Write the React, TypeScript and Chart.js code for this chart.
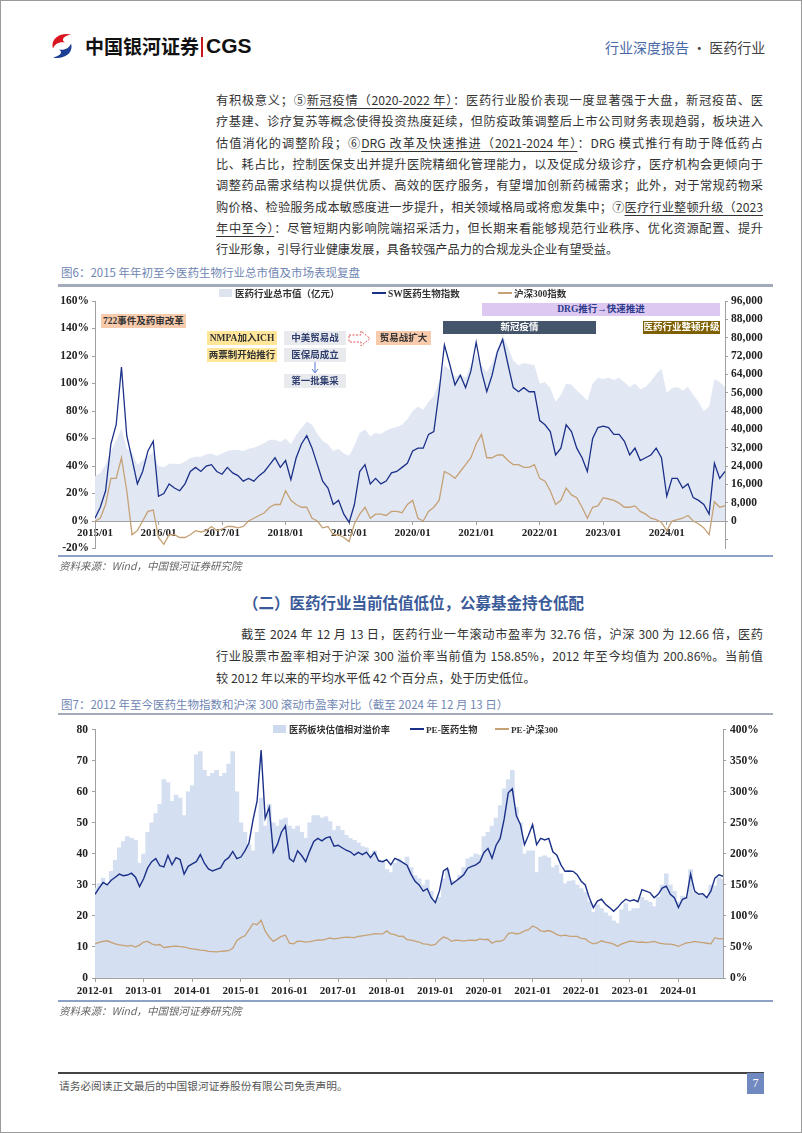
import React, { useEffect, useRef } from "react";
import { Chart, registerables } from "chart.js";

Chart.register(...registerables);

const SERIF = "'Liberation Serif','Times New Roman','Noto Sans CJK SC',serif";
const CJK = "'Noto Sans CJK SC','Noto Sans',sans-serif";
const BLUE = "#1b3088";
const TAN = "#c5a175";

// ---------------- 图6 data: monthly, 2015/01 – 2024/12 ----------------
const fig6YearLabels = ["2015/01", "2016/01", "2017/01", "2018/01", "2019/01", "2020/01", "2021/01", "2022/01", "2023/01", "2024/01"];
// 医药行业总市值（亿元）
const fig6MarketCap = [
  19500, 21000, 24500, 30500, 35000, 40500, 31500, 30000, 24500, 26500, 28500, 30000,
  24000, 23500, 25000, 25000, 24800, 26000, 27500, 28000, 28000, 29000, 29500, 28500,
  29500, 30500, 31000, 31000, 30500, 31500, 32000, 33000, 34000, 35500, 35500, 34500,
  36000, 33500, 37500, 40500, 43500, 42000, 38000, 35000, 33500, 30500, 31500, 29500,
  28500, 33000, 38500, 40000, 37000, 38500, 38000, 39500, 40500, 41000, 42000, 44500,
  48000, 50000, 48500, 52000, 54500, 61000, 68000, 66000, 63000, 64000, 62500, 68000,
  73000, 68000, 65000, 69000, 75000, 81000, 76000, 70000, 68000, 69000, 68500, 68000,
  60000, 60500, 58000, 52000, 55000, 60000, 59500, 57000, 55000, 52500, 60000, 62500,
  62000, 62500, 61500, 62500, 60500, 58500, 60000, 57500, 58500, 61000, 64000, 66500,
  56000, 58000, 58500, 57000, 58500, 55000, 52000, 48000, 50000, 62000, 60500, 58500,
];
// SW医药生物指数（累计涨跌幅 %）
const fig6SwIndex = [
  2, 10, 22, 56, 70, 112, 62, 45, 27, 36, 51, 58,
  18, 20, 27, 24, 22, 27, 36, 39, 36, 40, 41, 36,
  34, 39, 35, 33, 29, 31, 29, 33, 36, 41, 46, 39,
  44, 30, 46, 56, 62, 53, 41, 29, 24, 12, 15, 5,
  -1, 12, 36, 41, 27, 31, 27, 29, 35, 36, 39, 42,
  51, 53, 53, 63, 65, 94, 128, 114, 99, 106, 97, 109,
  130, 109, 94, 106, 123, 132, 114, 97, 94, 97, 94, 94,
  73, 70, 65, 48, 53, 70, 65, 53, 46, 36, 60, 68,
  69, 68, 63, 63, 58, 48, 53, 44, 46, 48, 53, 46,
  18, 31, 31, 24, 27, 17, 15, 12, 5, 42, 31, 36,
];
// 沪深300指数（累计涨跌幅 %）
const fig6Hs300 = [
  0, 2, 12, 31, 31, 46, 22, -10, -7, 0, 7, 8,
  -12, -17, -10, -10, -12, -12, -10, -7, -8, -7, -4, -7,
  -6, -4, -4, -5, -4, 0, 2, 4, 6, 10, 12, 12,
  22, 15, 12, 10, 10, 2, 0, -5, -4, -10, -10, -12,
  -15, -2, 5, 10, 2, 5, 5, 4, 7, 7, 6, 12,
  15, 2, 0, 7, 10, 15, 36, 34, 31, 36, 41, 46,
  56, 63, 46, 46, 48, 48, 44, 41, 41, 39, 39, 41,
  31, 29, 22, 12, 15, 24, 19, 17, 10, 2, 10, 11,
  17, 16, 15, 13, 10, 10, 11, 7, 5, 2, 1, -1,
  -7, 0, 1, 2, 4, 0, -2, -5, -10, 14, 10, 11,
];
const fig6LeftTicks = [-20, 0, 20, 40, 60, 80, 100, 120, 140, 160];
const fig6RightTicks = [-8000, 0, 8000, 16000, 24000, 32000, 40000, 48000, 56000, 64000, 72000, 80000, 88000, 96000];

// ---------------- 图7 data: monthly, 2012/01 – 2024/12 ----------------
const fig7YearLabels = ["2012-01", "2013-01", "2014-01", "2015-01", "2016-01", "2017-01", "2018-01", "2019-01", "2020-01", "2021-01", "2022-01", "2023-01", "2024-01"];
// 医药板块估值相对溢价率（%）
const fig7Premium = [
  145, 152, 161, 152, 172, 190, 210, 220, 228, 225, 222, 185,
  200, 235, 250, 265, 280, 320, 315, 285, 295, 290, 262, 300,
  310, 360, 365, 335, 325, 330, 335, 325, 330, 345, 365, 300,
  250, 235, 215, 205, 235, 290, 245, 280, 250, 245, 255, 258,
  245, 240, 245, 235, 225, 250, 262, 262, 258, 260, 252, 238,
  245, 238, 230, 225, 222, 218, 212, 210, 200, 205, 190, 188,
  175, 170, 185, 192, 185, 195, 178, 165, 160, 150, 158, 140,
  125, 130, 160, 175, 157, 156, 166, 178, 192, 195, 200, 198,
  228, 235, 245, 258, 278, 305, 320, 335, 275, 250, 200, 205,
  205, 170, 195, 197, 194, 178, 182, 168, 152, 156, 157, 150,
  144, 138, 123, 106, 118, 112, 105, 100, 92, 88, 110, 120,
  108, 112, 112, 130, 125, 122, 115, 130, 150, 168, 150, 140,
  123, 132, 130, 175, 138, 133, 136, 130, 150, 148, 162, 159,
];
// PE-医药生物
const fig7PeMed = [
  27.0, 29.0, 30.8, 30.0, 31.5, 32.5, 33.5, 33.0, 33.2, 33.8, 32.5, 29.5,
  32.0, 35.5, 37.5, 38.5, 36.2, 35.8, 39.5, 36.5, 38.8, 38.2, 33.5, 36.0,
  36.8, 37.5, 39.8, 37.0, 35.2, 34.5, 35.0, 35.5, 37.8, 38.8, 40.8, 38.5,
  39.0, 41.0, 43.5, 51.0, 57.0, 73.5, 51.5, 55.0, 40.5, 43.0, 47.0, 49.0,
  38.5, 37.5, 41.0, 39.5, 37.5, 41.0, 44.0, 45.0, 44.2, 45.2, 45.5, 42.5,
  42.8, 42.0, 41.2, 40.7, 39.6, 40.5, 39.8, 40.6, 38.8, 40.5, 37.8, 37.5,
  38.2, 36.5, 38.6, 38.0, 37.2, 36.4, 33.5, 31.2, 30.0, 28.0, 28.8, 25.9,
  24.3, 28.0, 34.5, 35.4, 30.2, 31.2, 32.2, 33.3, 35.4, 36.0, 36.5, 37.5,
  40.5, 41.8, 38.6, 42.8, 45.0, 51.3, 59.7, 61.0, 52.3, 49.5, 43.0, 46.0,
  49.5, 43.0, 45.0, 44.5, 45.0, 40.7, 39.6, 36.5, 34.4, 34.5, 34.4, 33.3,
  31.2, 30.0, 25.9, 22.7, 24.8, 25.4, 23.8, 22.7, 21.5, 22.7, 24.3, 25.4,
  24.8, 25.2, 24.6, 28.5, 28.0, 27.5, 25.9, 27.0, 29.0, 29.6, 27.0, 25.9,
  22.7, 25.4, 25.9, 33.5, 28.0, 27.0, 27.2, 25.9, 28.0, 32.2, 33.3, 32.8,
];
// PE-沪深300
const fig7PeHs300 = [
  11.0, 11.5, 11.8, 12.0, 11.5, 11.0, 10.7, 10.5, 10.3, 10.5, 10.0, 10.6,
  11.6, 11.8, 11.0, 10.6, 10.8, 9.8, 10.0, 10.2, 10.3, 10.1, 10.0, 9.6,
  9.4, 9.2, 9.0, 8.9, 8.6, 8.5, 8.4, 8.6, 8.7, 8.8, 9.6, 12.0,
  13.0, 13.6, 15.5, 17.5, 17.2, 18.6, 15.2, 13.2, 11.8, 12.6, 13.4, 13.8,
  11.2, 11.0, 11.9, 11.8, 11.6, 11.7, 12.0, 12.3, 12.2, 12.5, 12.9, 12.6,
  12.8, 13.0, 13.2, 13.1, 13.0, 13.4, 13.6, 13.8, 14.0, 14.3, 14.2, 14.2,
  15.2, 14.2, 14.0, 13.4, 13.5, 12.4, 12.2, 11.9, 11.6, 11.0, 10.9, 10.5,
  10.8, 12.2, 13.2, 12.8, 11.8, 12.2, 12.1, 11.9, 12.1, 12.2, 12.1, 12.6,
  12.4, 12.5, 11.2, 11.9, 11.8, 12.4, 14.3, 14.6, 14.2, 14.5, 15.2, 15.6,
  16.8, 16.2, 15.2, 15.0, 15.3, 14.8, 14.0, 13.6, 13.8, 13.5, 13.4, 13.4,
  12.8, 12.6, 11.6, 11.0, 11.3, 12.0, 11.6, 11.3, 10.9, 10.2, 11.0, 11.4,
  11.9, 11.8, 11.5, 11.6, 11.4, 11.6, 11.8, 11.3, 11.1, 10.9, 10.9, 10.7,
  10.2, 10.8, 11.3, 11.5, 11.8, 11.6, 11.4, 11.2, 11.0, 13.0, 12.6, 12.7,
];
const fig7LeftTicks = [0, 10, 20, 30, 40, 50, 60, 70, 80];
const fig7RightTicks = [0, 50, 100, 150, 200, 250, 300, 350, 400];

// ---------------- page text ----------------
const para1: [string, boolean][][] = [
  [["有积极意义；⑤", false], ["新冠疫情（2020-2022 年）", true], ["：医药行业股价表现一度显著强于大盘，新冠疫苗、医", false]],
  [["疗基建、诊疗复苏等概念使得投资热度延续，但防疫政策调整后上市公司财务表现趋弱，板块进入", false]],
  [["估值消化的调整阶段；⑥", false], ["DRG 改革及快速推进（2021-2024 年）", true], ["：DRG 模式推行有助于降低药占", false]],
  [["比、耗占比，控制医保支出并提升医院精细化管理能力，以及促成分级诊疗，医疗机构会更倾向于", false]],
  [["调整药品需求结构以提供优质、高效的医疗服务，有望增加创新药械需求；此外，对于常规药物采", false]],
  [["购价格、检验服务成本敏感度进一步提升，相关领域格局或将愈发集中；⑦", false], ["医疗行业整顿升级（2023", true]],
  [["年中至今）", true], ["：尽管短期内影响院端招采活力，但长期来看能够规范行业秩序、优化资源配置、提升", false]],
  [["行业形象，引导行业健康发展，具备较强产品力的合规龙头企业有望受益。", false]],
];
const para2 = [
  "截至 2024 年 12 月 13 日，医药行业一年滚动市盈率为 32.76 倍，沪深 300 为 12.66 倍，医药",
  "行业股票市盈率相对于沪深 300 溢价率当前值为 158.85%，2012 年至今均值为 200.86%。当前值",
  "较 2012 年以来的平均水平低 42 个百分点，处于历史低位。",
];

const fig6Notes = [
  { text: "722事件及药审改革", x: 100, y: 313, w: 85, h: 14, bg: "#f8cbad", color: "#333" },
  { text: "NMPA加入ICH", x: 206, y: 330, w: 70, h: 14, bg: "#ffe699", color: "#333" },
  { text: "两票制开始推行", x: 206, y: 347, w: 70, h: 14, bg: "#ffe699", color: "#333" },
  { text: "中美贸易战", x: 283, y: 330, w: 62, h: 14, bg: "#e8eaee", color: "#2f3e6e" },
  { text: "医保局成立", x: 283, y: 347, w: 62, h: 14, bg: "#e8eaee", color: "#2f3e6e" },
  { text: "第一批集采", x: 283, y: 373, w: 62, h: 14, bg: "#e8eaee", color: "#2f3e6e" },
  { text: "贸易战扩大", x: 375, y: 330, w: 55, h: 14, bg: "#f8cbad", color: "#333" },
  { text: "DRG推行→快速推进", x: 481, y: 302, w: 238, h: 13, bg: "#dcc8f0", color: "#2d3a8c" },
  { text: "新冠疫情", x: 442, y: 320, w: 153, h: 13, bg: "#44546a", color: "#fff" },
  { text: "医药行业整顿升级", x: 642, y: 320, w: 77, h: 13, bg: "#7f6000", color: "#fff" },
];

const tickFontY = { family: SERIF, size: 11.5, weight: "bold" as const };
const tickFontX = { family: SERIF, size: 11, weight: "bold" as const };
const AXIS = "#a0a0a0";

function Fig6Chart() {
  const ref = useRef<HTMLCanvasElement>(null);
  useEffect(() => {
    const months = fig6MarketCap.map((_, i) => i);
    const chart = new Chart(ref.current!, {
      type: "line",
      data: {
        labels: months,
        datasets: [
          { label: "SW医药生物指数", data: fig6SwIndex, yAxisID: "y", borderColor: BLUE, borderWidth: 1.3, pointRadius: 0, order: 1 },
          { label: "沪深300指数", data: fig6Hs300, yAxisID: "y", borderColor: TAN, borderWidth: 1.3, pointRadius: 0, order: 2 },
          { label: "医药行业总市值（亿元）", data: fig6MarketCap, yAxisID: "y1", borderWidth: 0, borderColor: "rgba(0,0,0,0)", backgroundColor: "#e2e8f3", fill: "origin", pointRadius: 0, order: 3 },
        ],
      } as any,
      options: {
        animation: false,
        responsive: false,
        devicePixelRatio: 1,
        events: [],
        layout: { padding: { top: 12, bottom: 10.5, left: 0, right: 0 } },
        plugins: { legend: { display: false }, tooltip: { enabled: false } },
        scales: {
          x: {
            type: "linear",
            min: 0,
            max: fig6MarketCap.length - 1,
            position: { y: 0 } as any,
            afterBuildTicks: (s: any) => { s.ticks = fig6YearLabels.map((_, i) => ({ value: i * 12 })); },
            ticks: { autoSkip: false, maxRotation: 0, minRotation: 0, padding: 3, color: "#222", font: tickFontX, callback: (v: any) => fig6YearLabels[Math.round(v / 12)] ?? "" },
            grid: { drawOnChartArea: false, tickLength: 3, color: AXIS },
            border: { display: true, color: AXIS },
          },
          y: {
            position: "left",
            min: -20,
            max: 160,
            afterBuildTicks: (s: any) => { s.ticks = fig6LeftTicks.map((v) => ({ value: v })); },
            afterFit: (s: any) => { s.width = 39; },
            ticks: { padding: 3, color: "#222", font: tickFontY, callback: (v: any) => v + "%" },
            grid: { drawOnChartArea: false, tickLength: 3, color: AXIS },
            border: { display: true, color: AXIS },
          },
          y1: {
            position: "right",
            min: -12000,
            max: 96000,
            afterBuildTicks: (s: any) => { s.ticks = fig6RightTicks.map((v) => ({ value: v })); },
            afterFit: (s: any) => { s.width = 51; },
            ticks: { padding: 3, color: "#222", font: tickFontY, callback: (v: any) => (v < 0 ? "" : Number(v).toLocaleString("en-US")) },
            grid: { drawOnChartArea: false, tickLength: 3, color: AXIS },
            border: { display: true, color: AXIS },
          },
        },
      } as any,
    });
    return () => chart.destroy();
  }, []);
  return <canvas ref={ref} width={720} height={270} style={{ position: "absolute", left: 55, top: 288, width: 720, height: 270 }} />;
}

function Fig7Chart() {
  const ref = useRef<HTMLCanvasElement>(null);
  useEffect(() => {
    const months = fig7Premium.map((_, i) => i);
    const chart = new Chart(ref.current!, {
      type: "bar",
      data: {
        labels: months,
        datasets: [
          { type: "line", label: "PE-医药生物", data: fig7PeMed, yAxisID: "y", borderColor: BLUE, borderWidth: 1.4, pointRadius: 0, order: 1 },
          { type: "line", label: "PE-沪深300", data: fig7PeHs300, yAxisID: "y", borderColor: TAN, borderWidth: 1.3, pointRadius: 0, order: 2 },
          { type: "bar", label: "医药板块估值相对溢价率", data: fig7Premium, yAxisID: "y1", backgroundColor: "#d4dff1", barPercentage: 1, categoryPercentage: 1, order: 3 },
        ],
      } as any,
      options: {
        animation: false,
        responsive: false,
        devicePixelRatio: 1,
        events: [],
        layout: { padding: { top: 9, bottom: 6, left: 0, right: 0 } },
        plugins: { legend: { display: false }, tooltip: { enabled: false } },
        scales: {
          x: {
            type: "linear",
            offset: false,
            min: 0,
            max: fig7Premium.length - 1,
            position: "bottom",
            afterBuildTicks: (s: any) => { s.ticks = fig7YearLabels.map((_, i) => ({ value: i * 12 })); },
            afterFit: (s: any) => { s.height = 22; },
            ticks: { autoSkip: false, maxRotation: 0, minRotation: 0, padding: 3, color: "#222", font: tickFontX, callback: (v: any) => fig7YearLabels[Math.round(v / 12)] ?? "" },
            grid: { drawOnChartArea: false, offset: false, tickLength: 4, color: AXIS },
            border: { display: true, color: AXIS },
          },
          y: {
            position: "left",
            min: 0,
            max: 80,
            afterBuildTicks: (s: any) => { s.ticks = fig7LeftTicks.map((v) => ({ value: v })); },
            afterFit: (s: any) => { s.width = 39; },
            ticks: { padding: 4, color: "#222", font: tickFontY },
            grid: { drawOnChartArea: false, tickLength: 3, color: AXIS },
            border: { display: true, color: AXIS },
          },
          y1: {
            position: "right",
            min: 0,
            max: 400,
            afterBuildTicks: (s: any) => { s.ticks = fig7RightTicks.map((v) => ({ value: v })); },
            afterFit: (s: any) => { s.width = 53; },
            ticks: { padding: 4, color: "#222", font: tickFontY, callback: (v: any) => v + "%" },
            grid: { drawOnChartArea: false, tickLength: 3, color: AXIS },
            border: { display: true, color: AXIS },
          },
        },
      } as any,
    });
    return () => chart.destroy();
  }, []);
  return <canvas ref={ref} width={720} height={287} style={{ position: "absolute", left: 55, top: 718, width: 720, height: 287 }} />;
}

const abs = (x: number, y: number, extra: React.CSSProperties = {}): React.CSSProperties => ({ position: "absolute", left: x, top: y, ...extra });

function LegendItem({ x, y, kind, color, label, size = 9.5 }: { x: number; y: number; kind: "box" | "line"; color: string; label: string; size?: number }) {
  return (
    <div style={abs(x, y - 8, { height: 16, display: "flex", alignItems: "center", whiteSpace: "nowrap", fontFamily: SERIF, fontWeight: "bold", fontSize: size, color: "#333" })}>
      {kind === "box" ? (
        <span style={{ display: "inline-block", width: 13, height: 8, background: color, marginRight: 3 }} />
      ) : (
        <span style={{ display: "inline-block", width: 14, height: 1.6, background: color, marginRight: 2 }} />
      )}
      <span>{label}</span>
    </div>
  );
}

function TextLine({ x, y, w, justify, children }: { x: number; y: number; w: number; justify: boolean; children: React.ReactNode }) {
  return (
    <div
      style={abs(x, y - 10, {
        width: w,
        height: 20,
        lineHeight: "20px",
        fontSize: 12.2,
        fontFamily: CJK,
        color: "#333",
        whiteSpace: "nowrap",
        textAlign: justify ? "justify" : "left",
        textAlignLast: justify ? "justify" : "left",
      } as React.CSSProperties)}
    >
      {children}
    </div>
  );
}

function Logo() {
  return (
    <svg width={24} height={26} viewBox="0 0 24 26" style={abs(49, 32)}>
      <path d="M21 1.5 C 10 -1, 0 6, 3 15.5 C 5 10.5, 9.5 8.5, 15 9.5 C 11 7, 13 3, 21 1.5 Z" fill="#d9161f" />
      <path d="M3 24.5 C 14 27, 24 20, 21 10.5 C 19 15.5, 14.5 17.5, 9 16.5 C 13 19, 11 23, 3 24.5 Z" fill="#1c3f95" />
    </svg>
  );
}

export default function App() {
  return (
    <div style={{ position: "absolute", left: 0, top: 0, width: 802, height: 1133, background: "#fff", boxSizing: "border-box", border: "1px solid #9a9a9a", fontFamily: CJK, overflow: "hidden" }}>
      {/* header */}
      <Logo />
      <div style={abs(84, 32, { fontSize: 19, fontWeight: 700, lineHeight: "26px", color: "#111", fontFamily: CJK, whiteSpace: "nowrap" })}>中国银河证券</div>
      <div style={abs(200, 36, { width: 2, height: 20, background: "#c8161d" })} />
      <div style={abs(205, 32, { fontSize: 21, fontWeight: 700, lineHeight: "26px", color: "#111", fontFamily: "'Liberation Sans',Arial,sans-serif", whiteSpace: "nowrap" })}>CGS</div>
      <div style={abs(604, 36, { fontSize: 14, lineHeight: "20px", whiteSpace: "nowrap" })}>
        <span style={{ color: "#4a68a6" }}>行业深度报告</span>
        <span style={{ color: "#444" }}> · 医药行业</span>
      </div>

      {/* paragraph 1 */}
      {para1.map((segs, i) => (
        <TextLine key={i} x={215} y={99 + i * 21.3} w={547} justify={i < para1.length - 1}>
          {segs.map(([t, u], j) => (
            <span key={j} style={u ? { textDecoration: "underline", textUnderlineOffset: 3 } : undefined}>{t}</span>
          ))}
        </TextLine>
      ))}

      {/* figure 6 */}
      <div style={abs(60, 262, { fontSize: 11.5, lineHeight: "18px", color: "#6f86b3", whiteSpace: "nowrap" })}>图6：2015 年年初至今医药生物行业总市值及市场表现复盘</div>
      <div style={abs(57, 283, { width: 715, height: 2.5, background: "#a3abbb" })} />
      <Fig6Chart />
      <LegendItem x={218} y={292} kind="box" color="#dde4f0" label="医药行业总市值（亿元）" />
      <LegendItem x={371} y={292} kind="line" color={BLUE} label="SW医药生物指数" />
      <LegendItem x={497} y={292} kind="line" color={TAN} label="沪深300指数" />
      {fig6Notes.map((n, i) => (
        <div key={i} style={abs(n.x, n.y, { width: n.w, height: n.h, background: n.bg, color: n.color, fontFamily: SERIF, fontWeight: "bold", fontSize: 9.5, lineHeight: n.h + "px", textAlign: "center", whiteSpace: "nowrap" })}>{n.text}</div>
      ))}
      <svg width={12} height={12} style={abs(308, 361)}>
        <line x1={6} y1={0} x2={6} y2={10} stroke="#5b7bd5" strokeWidth={1} />
        <path d="M3 7 L6 11 L9 7" fill="none" stroke="#5b7bd5" strokeWidth={1} />
      </svg>
      <svg width={24} height={17} style={abs(347, 329)}>
        <path d="M1 5 L13 5 L13 1 L22 8.5 L13 16 L13 12 L1 12 Z" fill="none" stroke="#e0524f" strokeWidth={1} strokeDasharray="2 1.5" />
      </svg>
      <div style={abs(57, 554, { width: 715, height: 1.5, background: "#8da0c5" })} />
      <div style={abs(58, 557, { fontSize: 10.5, lineHeight: "16px", color: "#666", fontStyle: "italic", whiteSpace: "nowrap" })}>资料来源：Wind，中国银河证券研究院</div>

      {/* section heading */}
      <div style={abs(242, 590, { fontSize: 15.5, fontWeight: 700, lineHeight: "22px", color: "#3a5a99", whiteSpace: "nowrap" })}>（二）医药行业当前估值低位，公募基金持仓低配</div>

      {/* paragraph 2 */}
      <TextLine x={240} y={633} w={522} justify={true}>{para2[0]}</TextLine>
      <TextLine x={215} y={655} w={547} justify={true}>{para2[1]}</TextLine>
      <TextLine x={215} y={677} w={547} justify={false}>{para2[2]}</TextLine>

      {/* figure 7 */}
      <div style={abs(60, 694, { fontSize: 11.5, lineHeight: "18px", color: "#6f86b3", whiteSpace: "nowrap" })}>图7：2012 年至今医药生物指数和沪深 300 滚动市盈率对比（截至 2024 年 12 月 13 日）</div>
      <div style={abs(57, 712, { width: 715, height: 1.5, background: "#a3abbb" })} />
      <Fig7Chart />
      <LegendItem x={272} y={728} kind="box" color="#cdd9ee" label="医药板块估值相对溢价率" size={9.2} />
      <LegendItem x={409} y={728} kind="line" color={BLUE} label="PE-医药生物" size={9.2} />
      <LegendItem x={494} y={728} kind="line" color={TAN} label="PE-沪深300" size={9.2} />
      <div style={abs(57, 999, { width: 715, height: 1.5, background: "#8da0c5" })} />
      <div style={abs(58, 1002, { fontSize: 10.5, lineHeight: "16px", color: "#666", fontStyle: "italic", whiteSpace: "nowrap" })}>资料来源：Wind，中国银河证券研究院</div>

      {/* footer */}
      <div style={abs(57, 1071, { width: 706, height: 1.5, background: "#444" })} />
      <div style={abs(58, 1077, { fontSize: 10.7, lineHeight: "16px", color: "#555", whiteSpace: "nowrap" })}>请务必阅读正文最后的中国银河证券股份有限公司免责声明。</div>
      <div style={abs(746, 1072, { width: 17, height: 21, background: "#7089c0", color: "#fff", fontSize: 12, lineHeight: "21px", textAlign: "center", fontFamily: SERIF })}>7</div>
    </div>
  );
}
